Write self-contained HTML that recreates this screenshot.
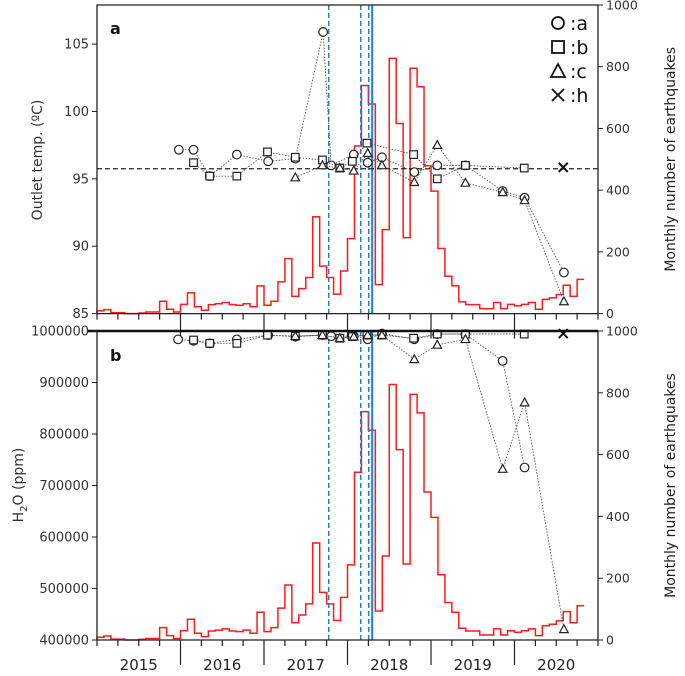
<!DOCTYPE html>
<html><head><meta charset="utf-8"><style>
html,body{margin:0;padding:0;background:#fff;}
svg{display:block;font-family:"DejaVu Sans","Liberation Sans",sans-serif;}
</style></head><body>
<svg id="chart" width="685" height="676" viewBox="0 0 685 676"></svg>
<script>
// ---- data ----
const quakes=[9,13,3,3,0,0,2,5,5,40,14,5,30,67,22,11,29,32,36,29,27,32,22,90,27,40,103,178,56,81,117,314,154,117,63,138,243,543,739,679,94,272,827,616,246,795,735,479,397,211,121,90,38,29,29,16,16,36,16,30,25,30,36,14,46,51,62,92,56,111];
const tempAMonths=[11.76,13.87,16.2,20.1,24.6,28.5,32.5,33.65,36.9,38.9,40.95,45.6,48.9,52.95,58.3,61.45,67.1];
const tempA=[97.16,97.16,95.2,96.8,96.3,96.5,105.9,96.0,96.8,96.2,96.6,95.5,96.0,96.0,94.1,93.6,88.05];
const tempBMonths=[13.87,16.2,20.1,24.5,28.5,32.4,34.9,36.7,38.8,45.5,48.9,52.95,61.4];
const tempB=[96.2,95.2,95.2,97.0,96.6,96.4,95.8,96.3,97.65,96.8,95.0,96.0,95.8];
const tempCMonths=[28.5,32.4,34.9,36.9,38.9,40.95,45.6,48.9,52.95,58.3,61.45,67.1];
const tempC=[95.1,96.0,95.8,95.6,96.9,96.0,94.75,97.5,94.7,94.0,93.4,85.9];
const tempHMonths=[67.0];
const tempH=[95.85];
const h2oA=[983800,981000,976000,983800,992000,989000,992000,990000,990000,984000,995000,984000,994000,994000,942000,735000];
const h2oAMonths=[11.66,13.87,16.2,20.1,24.6,28.5,32.4,33.65,36.9,38.9,40.95,45.6,48.9,52.95,58.3,61.45];
const h2oB=[982500,976000,976000,992000,990000,992000,986000,989000,992000,992000,986000,994000,994000,994000];
const h2oBMonths=[13.87,16.2,20.1,24.5,28.5,32.4,34.9,36.7,38.8,40.95,45.5,48.9,52.95,61.4];
const h2oC=[990000,992000,986000,989000,992000,992000,945000,973000,984000,732000,861000,420700];
const h2oCMonths=[28.5,32.4,34.9,36.9,38.9,40.95,45.6,48.9,52.95,58.3,61.45,67.1];
const h2oH=[995000];
const h2oHMonths=[67.0];
const eventMonths=[33.3,37.9,39.05,39.55];
const eventStyles=["dash","dash","dash","solid"];
const years=["2015","2016","2017","2018","2019","2020"];
const tempTicks=[85,90,95,100,105];
const h2oTicks=[400000,500000,600000,700000,800000,900000,1000000];
const quakeTicks=[0,200,400,600,800,1000];
const refTemp=95.75;

// ---- geometry ----
const X0=97,X1=598,NM=72;
const x=m=>X0+m*(X1-X0)/NM;
const A={top:5,bot:313.6}, B={top:331,bot:640};
const yTemp=v=>A.bot-(v-85)*(A.bot-A.top)/(107.9-85);
const yH2O=v=>B.bot-(v-400000)*(B.bot-B.top)/600000;
const yQa=v=>A.bot-v*(A.bot-A.top)/1000;
const yQb=v=>B.bot-v*(B.bot-B.top)/1000;

const svg=document.getElementById('chart');
const NS='http://www.w3.org/2000/svg';
function el(tag,attrs,parent){const e=document.createElementNS(NS,tag);for(const k in attrs)e.setAttribute(k,attrs[k]);(parent||svg).appendChild(e);return e;}
function txt(s,attrs,parent){const t=el('text',attrs,parent);t.textContent=s;return t;}

function histogram(yf,name){
  let d=`M${x(0)},${yf(0)}`;
  quakes.forEach((q,i)=>{d+=` L${x(i)},${yf(q)} L${x(i+1)},${yf(q)}`;});
  const p=el('path',{d:d,fill:'none',stroke:'#ff1a1a','stroke-width':1.5});
  
  
}
function events(top,bot,prefix){
  eventMonths.forEach((m,i)=>{
    const l=el('line',{x1:x(m),x2:x(m),y1:top,y2:bot,stroke:'#1f7fd0','stroke-width':eventStyles[i]=='solid'?2:1.5,'stroke-dasharray':eventStyles[i]=='solid'?'none':'5,3'});
    
    
  });
}
function marker(type,cx,cy,g){
  if(type=='a') el('circle',{cx:cx,cy:cy,r:4.3,fill:'#fff',stroke:'#222','stroke-width':1.2},g);
  else if(type=='b') el('rect',{x:cx-3.8,y:cy-3.8,width:7.6,height:7.6,fill:'#fff',stroke:'#222','stroke-width':1.2},g);
  else if(type=='c') el('path',{d:`M${cx},${cy-4.5} L${cx+4.3},${cy+3.3} L${cx-4.3},${cy+3.3}Z`,fill:'#fff',stroke:'#222','stroke-width':1.2},g);
  else el('path',{d:`M${cx-4.5},${cy-4.5} L${cx+4.5},${cy+4.5} M${cx+4.5},${cy-4.5} L${cx-4.5},${cy+4.5}`,stroke:'#111','stroke-width':2},g);
}
function series(months,vals,yf,type,name){
  const g=el('g',{});
  
  
  if(months.length>1){
    el('polyline',{points:months.map((m,i)=>x(m)+','+yf(vals[i])).join(' '),fill:'none',stroke:'#555','stroke-width':0.9,'stroke-dasharray':'1.5,1.5'},g);
  }
  months.forEach((m,i)=>marker(type,x(m),yf(vals[i]),g));
}
function xticks(y,name){
  const g=el('g',{});
  
  
  for(let m=0;m<=NM;m+=3){
    const major=m%12==0&&m>0&&m<NM;
    el('line',{x1:x(m),x2:x(m),y1:y,y2:y+(major?25:6),stroke:'#222','stroke-width':1.2},g);
  }
}

// ---- panel a ----
histogram(yQa,'earthquake-histogram-a');
events(A.top,A.bot,'panel-a');
{const l=el('line',{x1:X0,x2:X1,y1:yTemp(refTemp),y2:yTemp(refTemp),stroke:'#222','stroke-width':1.2,'stroke-dasharray':'5,3'});
}
series(tempAMonths,tempA,yTemp,'a','temp-series-a');
series(tempBMonths,tempB,yTemp,'b','temp-series-b');
series(tempCMonths,tempC,yTemp,'c','temp-series-c');
series(tempHMonths,tempH,yTemp,'h','temp-series-h');
{const f=el('path',{d:`M${X0},${A.bot} L${X0},${A.top} L${X1},${A.top} L${X1},${A.bot} L${X0},${A.bot}`,fill:'none',stroke:'#222','stroke-width':1.3});
}
tempTicks.forEach(v=>{
  el('line',{x1:X0-5,x2:X0,y1:yTemp(v),y2:yTemp(v),stroke:'#222'});
  const t=txt(String(v),{x:X0-8,y:yTemp(v)+4.5,'text-anchor':'end','font-size':13,fill:'#333'});
  
});
quakeTicks.forEach(v=>{
  el('line',{x1:X1,x2:X1+5,y1:yQa(v),y2:yQa(v),stroke:'#222'});
  const t=txt(String(v),{x:X1+8,y:yQa(v)+4.5,'text-anchor':'start','font-size':12.5,fill:'#333'});
  
});
xticks(A.bot,'panel-a-x-ticks');
{const t=txt('a',{x:110,y:34,'font-size':16,'font-weight':'bold',fill:'#111'});}
// legend
{const g=el('g',{});
 ['a','b','c','h'].forEach((k,i)=>{const cy=23+i*24;
   const e=el('g',{},g);
   if(k=='a') el('circle',{cx:558,cy:cy,r:6,fill:'none',stroke:'#111','stroke-width':1.8},e);
   if(k=='b') el('rect',{x:552,y:cy-6,width:12,height:12,fill:'none',stroke:'#111','stroke-width':1.8},e);
   if(k=='c') el('path',{d:`M558,${cy-7} L565,${cy+6} L551,${cy+6}Z`,fill:'none',stroke:'#111','stroke-width':1.8},e);
   if(k=='h') el('path',{d:`M552,${cy-6} L564,${cy+6} M564,${cy-6} L552,${cy+6}`,stroke:'#111','stroke-width':1.8},e);
   txt(':'+k,{x:570,y:cy+7,'font-size':19,fill:'#111'},e);
 });}
{const t=txt('Outlet temp. (ºC)',{transform:'translate(42,160) rotate(-90)','text-anchor':'middle','font-size':14,fill:'#333'});}

// ---- panel b ----
histogram(yQb,'earthquake-histogram-b');
events(B.top,B.bot,'panel-b');
series(h2oAMonths,h2oA,yH2O,'a','h2o-series-a');
series(h2oBMonths,h2oB,yH2O,'b','h2o-series-b');
series(h2oCMonths,h2oC,yH2O,'c','h2o-series-c');
series(h2oHMonths,h2oH,yH2O,'h','h2o-series-h');
{const f=el('path',{d:`M${X0},${B.bot} L${X0},${B.top} L${X1},${B.top} L${X1},${B.bot} L${X0},${B.bot}`,fill:'none',stroke:'#222','stroke-width':1.3});

el('line',{x1:X0-10,x2:X1,y1:B.top,y2:B.top,stroke:'#111','stroke-width':2.5});}
h2oTicks.forEach(v=>{
  el('line',{x1:X0-5,x2:X0,y1:yH2O(v),y2:yH2O(v),stroke:'#222'});
  const t=txt(String(v),{x:X0-8,y:yH2O(v)+4.5,'text-anchor':'end','font-size':13,fill:'#333'});
  
});
quakeTicks.forEach(v=>{
  el('line',{x1:X1,x2:X1+5,y1:yQb(v),y2:yQb(v),stroke:'#222'});
  const t=txt(String(v),{x:X1+8,y:yQb(v)+4.5,'text-anchor':'start','font-size':12.5,fill:'#333'});
  
});
xticks(B.bot,'panel-b-x-ticks');
years.forEach((yv,i)=>{const t=txt(yv,{x:x(i*12+6),y:670,'text-anchor':'middle','font-size':15,fill:'#222'});
  });
{const t=txt('b',{x:110,y:361,'font-size':16,'font-weight':'bold',fill:'#111'});}
{const t=el('text',{transform:'translate(23,485) rotate(-90)','text-anchor':'middle','font-size':14,fill:'#333'});
 
 t.innerHTML='H<tspan font-size="10" dy="4">2</tspan><tspan dy="-4">O  (ppm)</tspan>';}
// right titles
[[yQa,(A.top+A.bot)/2,'quake-axis-title-a'],[yQb,(B.top+B.bot)/2,'quake-axis-title-b']].forEach(a=>{
  const t=txt('Monthly number of earthquakes',{transform:`translate(675,${a[1]}) rotate(-90)`,'text-anchor':'middle','font-size':14,fill:'#222'});
  });
</script>
</body></html>
